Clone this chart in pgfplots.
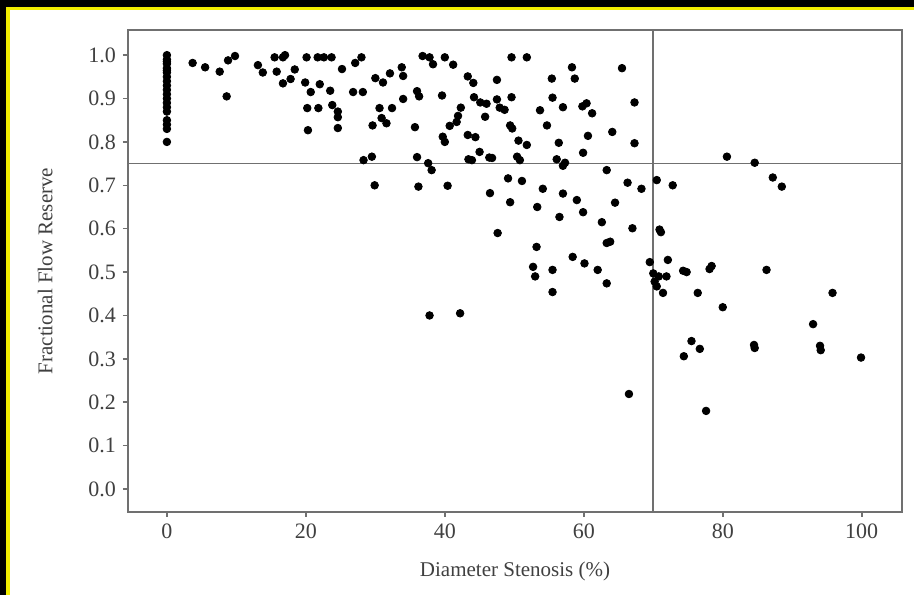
\documentclass[border=0pt]{standalone}
\usepackage{fontspec}
\setmainfont{Liberation Serif}
\usepackage{pgfplots}
\pgfplotsset{compat=1.18}
\definecolor{axisgray}{HTML}{707070}
\definecolor{txtgray}{HTML}{404040}
\definecolor{frameyellow}{HTML}{F2EE00}

\pgfplotstableread{
x y
0 1.000
0 0.990
0 0.985
0 0.980
0 0.970
0 0.965
0 0.960
0 0.950
0 0.940
0 0.930
0 0.920
0 0.910
0 0.900
0 0.890
0 0.880
0 0.870
0 0.850
0 0.840
0 0.830
0 0.800
3.7 0.982
5.5 0.972
7.6 0.962
8.6 0.905
8.8 0.988
9.8 0.998
13.1 0.977
13.8 0.960
15.5 0.995
15.8 0.962
16.7 0.995
17.0 1.000
18.4 0.967
16.7 0.935
17.8 0.945
20.1 0.995
21.7 0.995
22.6 0.995
23.7 0.995
19.9 0.937
20.7 0.915
22.0 0.933
23.5 0.918
20.2 0.878
21.8 0.878
20.3 0.827
23.8 0.885
24.6 0.870
24.6 0.857
24.6 0.832
25.2 0.968
27.1 0.982
28.0 0.995
26.8 0.915
28.2 0.915
29.6 0.838
30.9 0.855
31.6 0.843
30.6 0.878
32.4 0.878
31.1 0.937
30.0 0.947
32.1 0.958
33.8 0.972
34.0 0.952
34.0 0.899
35.7 0.834
36.0 0.917
36.3 0.905
36.8 0.998
37.8 0.995
38.3 0.979
40.0 0.995
41.2 0.978
39.6 0.907
28.3 0.758
29.5 0.766
29.9 0.700
36.0 0.765
37.6 0.751
38.1 0.735
36.2 0.697
40.4 0.699
39.7 0.812
40.0 0.800
40.7 0.837
41.7 0.846
41.9 0.860
42.3 0.879
43.3 0.816
44.4 0.811
43.3 0.951
44.1 0.936
44.2 0.903
45.1 0.891
46.0 0.888
45.8 0.858
45.0 0.777
46.4 0.764
43.4 0.760
43.9 0.758
47.5 0.943
47.5 0.898
47.9 0.879
48.6 0.874
49.4 0.838
49.7 0.831
49.6 0.995
51.8 0.995
49.6 0.903
50.6 0.803
51.8 0.793
50.4 0.766
50.8 0.758
46.8 0.763
55.4 0.946
55.5 0.902
58.3 0.972
58.7 0.946
53.7 0.873
54.7 0.838
57.0 0.880
59.8 0.882
60.4 0.889
61.2 0.866
56.4 0.798
60.6 0.814
59.9 0.775
56.1 0.760
57.3 0.752
57.0 0.745
63.3 0.735
64.1 0.823
65.5 0.970
67.3 0.891
67.3 0.797
46.5 0.682
49.1 0.716
51.1 0.710
49.4 0.661
47.6 0.590
54.1 0.692
53.3 0.650
57.0 0.681
59.0 0.666
59.9 0.638
56.5 0.627
62.6 0.615
64.5 0.660
66.3 0.706
68.3 0.692
70.5 0.712
72.8 0.700
67.0 0.601
70.9 0.598
71.1 0.592
63.3 0.567
63.8 0.570
53.2 0.558
58.4 0.535
60.1 0.520
52.7 0.512
53.0 0.490
55.5 0.505
62.0 0.505
55.5 0.454
63.3 0.474
69.5 0.523
72.1 0.528
70.0 0.497
70.8 0.490
71.9 0.490
70.2 0.478
70.5 0.467
71.4 0.452
37.8 0.400
42.2 0.405
80.6 0.766
84.6 0.752
87.2 0.718
88.5 0.697
74.3 0.503
74.8 0.500
78.1 0.507
78.4 0.514
86.3 0.505
76.4 0.452
80.0 0.419
95.8 0.452
93.0 0.380
75.5 0.341
76.7 0.323
74.4 0.306
84.5 0.332
84.6 0.325
94.0 0.330
94.1 0.320
99.9 0.303
66.5 0.219
77.6 0.180
}\ffrdata

\begin{document}
\begin{tikzpicture}
% page: 914x595 px at 0.5pt per px
\path[use as bounding box, fill=white] (0,0) rectangle (457pt,297.5pt);
\fill[black] (0,294pt) rectangle (457pt,297.5pt);
\fill[black] (0,0) rectangle (3pt,297.5pt);
\fill[frameyellow] (3pt,292.5pt) rectangle (457pt,294pt);
\fill[frameyellow] (3pt,0) rectangle (5pt,294pt);

\begin{axis}[
  at={(64pt,41.5pt)}, anchor=south west,
  scale only axis,
  width=387pt, height=241pt,
  xmin=-5.6, xmax=105.8,
  ymin=-0.053, ymax=1.058,
  xtick={0,20,40,60,80,100},
  ytick={0,0.1,0.2,0.3,0.4,0.5,0.6,0.7,0.8,0.9,1.0},
  yticklabel style={/pgf/number format/.cd,fixed,fixed zerofill,precision=1},
  /pgf/number format/assume math mode=true,
  tick label style={font=\fontsize{11}{12}\selectfont, text=txtgray},
  label style={font=\fontsize{10.5}{12}\selectfont, text=txtgray},
  xlabel={Diameter Stenosis (\%)},
  ylabel={Fractional Flow Reserve},
  xlabel style={at={(axis description cs:0.5,-0.124)}, anchor=center},
  ylabel style={at={(axis description cs:-0.107,0.5)}, anchor=center, rotate=0},
  axis line style={axisgray, line width=1pt},
  tick style={axisgray, line width=0.8pt},
  tick align=outside,
  xtick pos=bottom, ytick pos=left,
  major tick length=2.5pt,
  clip=true,
]
\addplot[axisgray, line width=0.8pt, no marks] coordinates {(70,-1) (70,2)};
\addplot[axisgray, line width=0.8pt, no marks] coordinates {(-10,0.75) (110,0.75)};
\addplot[only marks, mark=*, mark size=1.9pt, black] table[x=x, y=y] {\ffrdata};
\end{axis}
\end{tikzpicture}
\end{document}
